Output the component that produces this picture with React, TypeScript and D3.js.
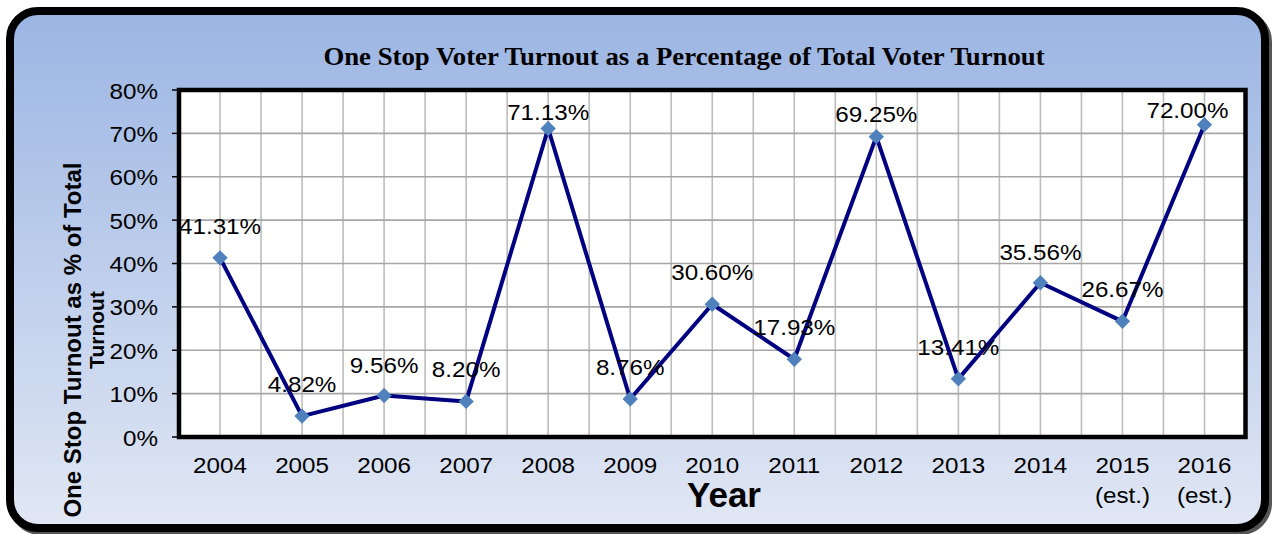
import * as d3 from 'd3';

// values
const years = ['2004', '2005', '2006', '2007', '2008', '2009', '2010', '2011', '2012', '2013', '2014', '2015', '2016'];
const yearNotes = ['', '', '', '', '', '', '', '', '', '', '', '(est.)', '(est.)'];
const turnout = [41.31, 4.82, 9.56, 8.2, 71.13, 8.76, 30.6, 17.93, 69.25, 13.41, 35.56, 26.67, 72.0];
const yTicks = [0, 10, 20, 30, 40, 50, 60, 70, 80];

// label nudges (px, relative to the marker)
const labelDx = [0, 0, 0, 0, 0, 0, 0, 0, 0, 0, 0, 0, -17];
const labelDy = [-24, -24, -23, -24, -8, -24, -24, -24, -15, -24, -23, -24, -7];

const W = 1273;
const H = 534;
const plot = { left: 179, right: 1245.5, top: 90, bottom: 437 };

const font = 'Liberation Sans, Arial, sans-serif';

function Wide({ x, y, sx = 1.1, anchor = 'middle', size = 22, weight = 'normal', children }: any) {
  return (
    <text
      transform={`translate(${x},${y}) scale(${sx},1)`}
      textAnchor={anchor}
      fontFamily={font}
      fontSize={size}
      fontWeight={weight}
      fill="#000"
    >
      {children}
    </text>
  );
}

export default function App() {
  const x = d3.scaleBand<string>().domain(years).range([plot.left, plot.right]).padding(0);
  const y = d3.scaleLinear().domain([0, 80]).range([plot.bottom, plot.top]);
  const bw = x.bandwidth();
  const cx = (i: number) => (x(years[i]) as number) + bw / 2;

  // vertical grid every half category
  const vGrid: number[] = [];
  for (let k = 1; k < years.length * 2; k++) vGrid.push(plot.left + (k * bw) / 2);

  const line = d3
    .line<number>()
    .x((_, i) => cx(i))
    .y((d) => y(d));

  const diamond = d3.symbol().type(d3.symbolDiamond2).size(150)();

  return (
    <svg width={W} height={H} style={{ position: 'absolute', left: 0, top: 0, background: '#fff' }}>
      <defs>
        <linearGradient id="bg" x1="0" y1="0" x2="0" y2="1">
          <stop offset="0" stopColor="#9bb5e3" />
          <stop offset="1" stopColor="#e1e7f4" />
        </linearGradient>
      </defs>

      {/* frame with shadow */}
      <rect x={13} y={14} width={1255} height={517} rx={28} fill="none" stroke="#555" strokeWidth={8} />
      <rect x={10} y={11} width={1255} height={517} rx={28} fill="url(#bg)" stroke="#000" strokeWidth={8} />

      <text
        x={684}
        y={65}
        textAnchor="middle"
        fontFamily="Liberation Serif, Times New Roman, serif"
        fontWeight="bold"
        fontSize={26}
        transform="translate(684,0) scale(1.03,1) translate(-684,0)"
      >
        One Stop Voter Turnout as a Percentage of Total Voter Turnout
      </text>

      {/* plot area */}
      <rect x={plot.left} y={plot.top} width={plot.right - plot.left} height={plot.bottom - plot.top} fill="#fff" />
      {vGrid.map((gx, k) => (
        <line key={'v' + k} x1={gx} x2={gx} y1={plot.top} y2={plot.bottom} stroke="#bdbdbd" strokeWidth={1.6} />
      ))}
      {yTicks.map((t) => (
        <line key={'h' + t} x1={plot.left} x2={plot.right} y1={y(t)} y2={y(t)} stroke="#a6a6a6" strokeWidth={1.6} />
      ))}
      {yTicks.map((t) => (
        <line key={'t' + t} x1={plot.left - 7} x2={plot.left} y1={y(t)} y2={y(t)} stroke="#000" strokeWidth={1.5} />
      ))}
      <rect
        x={plot.left}
        y={plot.top}
        width={plot.right - plot.left}
        height={plot.bottom - plot.top}
        fill="none"
        stroke="#000"
        strokeWidth={4.5}
      />

      {/* y tick labels */}
      {yTicks.map((t) => (
        <Wide key={'yl' + t} x={158} y={y(t) + 8.5} anchor="end">
          {t + '%'}
        </Wide>
      ))}

      {/* x labels */}
      {years.map((yr, i) => (
        <g key={'x' + yr}>
          <Wide x={cx(i)} y={473}>
            {yr}
          </Wide>
          {yearNotes[i] && (
            <Wide x={cx(i)} y={503}>
              {yearNotes[i]}
            </Wide>
          )}
        </g>
      ))}

      <text x={724} y={507} textAnchor="middle" fontFamily={font} fontWeight="bold" fontSize={35}>
        Year
      </text>

      {/* y axis title */}
      <text
        transform="translate(81,340) rotate(-90)"
        textAnchor="middle"
        fontFamily={font}
        fontWeight="bold"
        fontSize={24}
      >
        One Stop Turnout as % of Total
      </text>
      <text
        transform="translate(104,330) rotate(-90)"
        textAnchor="middle"
        fontFamily={font}
        fontWeight="bold"
        fontSize={21}
      >
        Turnout
      </text>

      {/* series */}
      <path d={line(turnout) as string} fill="none" stroke="#000080" strokeWidth={4} strokeLinejoin="round" />
      {turnout.map((v, i) => (
        <path key={'m' + i} d={diamond as string} transform={`translate(${cx(i)},${y(v)})`} fill="#4f81bd" />
      ))}
      {turnout.map((v, i) => (
        <Wide key={'l' + i} x={cx(i) + labelDx[i]} y={y(v) + labelDy[i]}>
          {v.toFixed(2) + '%'}
        </Wide>
      ))}
    </svg>
  );
}
